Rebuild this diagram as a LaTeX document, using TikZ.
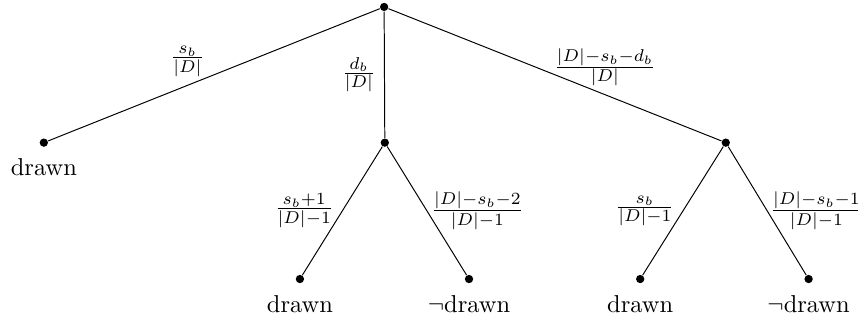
\documentclass[tikz,border=0pt]{standalone}
\usetikzlibrary{positioning}
\tikzset{
  punto/.style={circle, fill=black, inner sep=0pt, minimum size=3.4pt},
  esito/.style={inner sep=0pt},
}
\begin{document}
\begin{tikzpicture}
        \useasboundingbox (0,0) rectangle (12.33,-4.6);
        % Punti
        \node[punto] (r) at (5.52,-0.1) {};
        \node[punto] (a) at (0.63,-2.05) {};
        \node[punto] (b) at (5.53,-2.05) {};
        \node[punto] (c) at (10.43,-2.05) {};
        \node[punto] (ba) at (4.31,-4.01) {};
        \node[punto] (bb) at (6.74,-4.01) {};
        \node[punto] (ca) at (9.20,-4.01) {};
        \node[punto] (cb) at (11.62,-4.01) {};
        % Rami
        \draw (r) -- (a) node [pos=0.58, above] {$\frac{s_b}{|D|}$};
        \draw (r) -- (b) node [midway, left] {$\frac{d_b}{|D|}$};
        \draw (r) -- (c) node [pos=0.65, above] {$\frac{|D|-s_b-d_b}{|D|}$};
        \draw (b) -- (ba) node [midway, left] {$\frac{s_b+1}{|D|-1}$};
        \draw (b) -- (bb) node [midway, right, inner sep=1.5pt] {$\frac{|D|-s_b-2}{|D|-1}$};
        \draw (c) -- (ca) node [midway, left] {$\frac{s_b}{|D|-1}$};
        \draw (c) -- (cb) node [midway, right, inner sep=1pt] {$\frac{|D|-s_b-1}{|D|-1}$};
        % Esiti
        \node[esito, below=4.5pt of a] (ta) {drawn};
        \node[esito, below=4.5pt of ba] (tba) {drawn};
        \node[esito, below=4.5pt of bb] (tbb) {$\neg$drawn};
        \node[esito, below=4.5pt of ca] (tca) {drawn};
        \node[esito, below=4.5pt of cb] (tcb) {$\neg$drawn};
    \end{tikzpicture}
\end{document}
